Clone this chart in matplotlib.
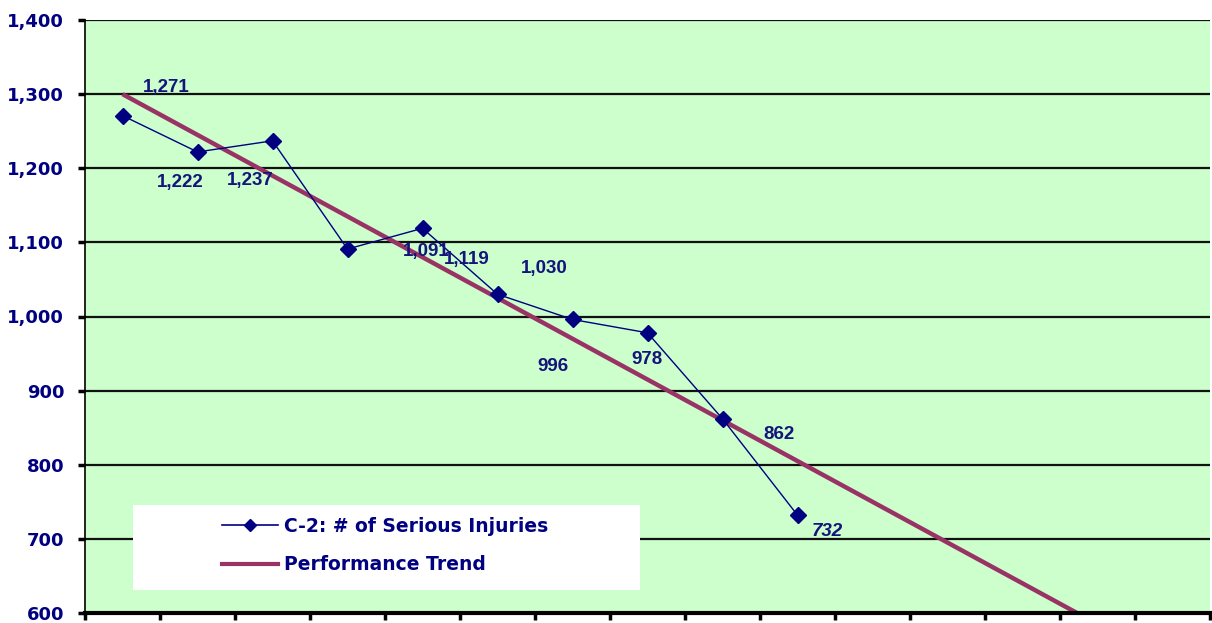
import matplotlib
matplotlib.use("Agg")
import matplotlib.pyplot as plt
from matplotlib.lines import Line2D
from matplotlib.patches import Rectangle

# ---- data ----
categories = list(range(10))
injuries = [1271, 1222, 1237, 1091, 1119, 1030, 996, 978, 862, 732]
data_labels = ["1,271", "1,222", "1,237", "1,091", "1,119", "1,030", "996", "978", "862", "732"]
trend_x = [0, 14]
trend_y = [1300, 530]
y_ticks = [600, 700, 800, 900, 1000, 1100, 1200, 1300, 1400]
y_tick_labels = ["600", "700", "800", "900", "1,000", "1,100", "1,200", "1,300", "1,400"]
series_name = "C-2: # of Serious Injuries"
trend_name = "Performance Trend"

# label offsets in pixels (dx, dy) relative to point
label_offsets = [(44, 28), (-17, -31), (-22, -40), (79, -2), (44, -31),
                 (47, 26), (-20, -47), (0, -27), (57, -16), (30, -16)]

NAVY = "#000080"
LABEL = "#14147a"
TREND = "#993366"

plt.rcParams['font.family'] = ['Liberation Sans', 'DejaVu Sans']

fig = plt.figure(figsize=(12.12, 6.23), dpi=100)
ax = fig.add_axes([85/1212, 10/623, (1210-85)/1212, (613-20)/623])
ax.set_facecolor("#CCFFCC")

ax.set_xlim(-0.5, 14.5)
ax.set_ylim(600, 1400)

for yv in y_ticks[1:]:
    ax.axhline(yv, color="#111111", lw=1.6, zorder=1)

ax.plot(trend_x, trend_y, color=TREND, lw=3.2, zorder=2, solid_capstyle='butt')
ax.plot(categories, injuries, color=NAVY, lw=1.0, marker="D", markersize=8,
        markerfacecolor=NAVY, markeredgecolor=NAVY, zorder=3)

for x, y, t, (dx, dy) in zip(categories, injuries, data_labels, label_offsets):
    ax.annotate(t, (x, y), xytext=(dx * 0.72, dy * 0.72), textcoords="offset points",
                ha="center", va="center", fontsize=13.5, fontweight="bold",
                color=LABEL, zorder=4,
                fontstyle="italic" if t == "732" else "normal")

ax.set_xticks([i - 0.5 for i in range(16)])
ax.set_xticklabels([])
ax.set_yticks(y_ticks)
ax.set_yticklabels(y_tick_labels, fontsize=13, fontweight="heavy", color=NAVY,
                   family="DejaVu Sans")
ax.tick_params(axis="x", length=5, width=2.5, direction="out", color="black")
ax.tick_params(axis="y", length=5, width=2.5, direction="out", color="black", pad=10)

ax.spines["top"].set_visible(False)
ax.spines["right"].set_visible(False)
ax.spines["left"].set_linewidth(1.2)
ax.spines["bottom"].set_linewidth(3)

# legend box
ax.add_patch(Rectangle(((133-85)/1125, (613-590)/593), (640-133)/1125, (590-505)/593,
                       transform=ax.transAxes, facecolor="white", edgecolor="none", zorder=5))
handles = [Line2D([0], [0], color=NAVY, lw=1.2, marker="D", markersize=6,
                  markerfacecolor=NAVY),
           Line2D([0], [0], color=TREND, lw=3)]
leg = ax.legend(handles, [series_name, trend_name], loc="center left",
                bbox_to_anchor=((222-85)/1125, (613-545.5)/593),
                frameon=False, borderaxespad=0, borderpad=0,
                prop={"size": 13.5, "weight": "bold", "family": "DejaVu Sans"},
                handlelength=3.0, labelspacing=1.05, handletextpad=0.3)
for t in leg.get_texts():
    t.set_color(NAVY)
leg.set_zorder(6)

fig.savefig("out.png", dpi=100, facecolor="white")
